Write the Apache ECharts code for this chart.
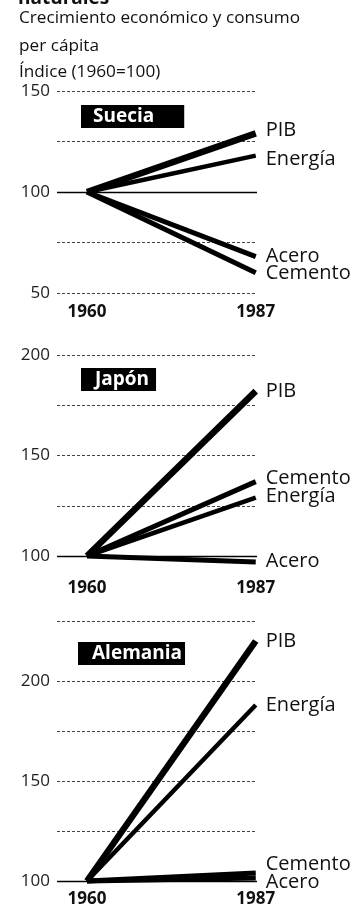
<!DOCTYPE html>
<html>
<head>
<meta charset="utf-8">
<script src="https://cdn.jsdelivr.net/npm/echarts@6/dist/echarts.min.js"></script>
<style>
  html, body { margin: 0; padding: 0; background: #fff; }
  #chart { width: 364px; height: 918px; }
</style>
</head>
<body>
<div id="chart"></div>
<script>
// Years on the horizontal axis
const years = [1960, 1987];

// Index values (1960 = 100), one array per country and indicator
const sueciaPIB = [100, 129];
const sueciaEnergia = [100, 118];
const sueciaAcero = [100, 68];
const sueciaCemento = [100, 60];

const japonPIB = [100, 182];
const japonCemento = [100, 137];
const japonEnergia = [100, 129];
const japonAcero = [100, 97];

const alemaniaPIB = [100, 220];
const alemaniaEnergia = [100, 188];
const alemaniaCemento = [100, 104];
const alemaniaAcero = [100, 101.5];

// Gridline values and labelled ticks for each panel
const sueciaTicks = [50, 75, 100, 125, 150];
const sueciaLabels = [50, 100, 150];
const japonTicks = [100, 125, 150, 175, 200];
const japonLabels = [100, 150, 200];
const alemaniaTicks = [100, 125, 150, 175, 200, 230];
const alemaniaLabels = [100, 150, 200];

const FONT = '"Open Sans", "Noto Sans", sans-serif';
const INK = '#111';

// Panel layout: grid placement, axis range and x-label gap
const panels = [
  { name: 'Suecia', top: 91, height: 202, min: 50, max: 150, ticks: sueciaTicks, labels: sueciaLabels,
    yearGap: 11, box: { left: 81, top: 105, padding: [2, 30, 2, 12] },
    series: [
      { name: 'PIB', values: sueciaPIB },
      { name: 'Energía', values: sueciaEnergia },
      { name: 'Acero', values: sueciaAcero },
      { name: 'Cemento', values: sueciaCemento }
    ],
    nudge: { 'PIB': -3, 'Energía': 4, 'Acero': 0, 'Cemento': 0 } },
  { name: 'Japón', top: 355, height: 201, min: 100, max: 200, ticks: japonTicks, labels: japonLabels,
    yearGap: 24, box: { left: 81, top: 368, padding: [2, 7, 2, 14] },
    series: [
      { name: 'PIB', values: japonPIB },
      { name: 'Cemento', values: japonCemento },
      { name: 'Energía', values: japonEnergia },
      { name: 'Acero', values: japonAcero }
    ],
    nudge: { 'PIB': 0, 'Cemento': -3, 'Energía': -1, 'Acero': -1 } },
  { name: 'Alemania', top: 621, height: 260, min: 100, max: 230, ticks: alemaniaTicks, labels: alemaniaLabels,
    yearGap: 10, box: { left: 78, top: 642, padding: [2, 3, 2, 14] },
    series: [
      { name: 'PIB', values: alemaniaPIB },
      { name: 'Energía', values: alemaniaEnergia },
      { name: 'Cemento', values: alemaniaCemento },
      { name: 'Acero', values: alemaniaAcero }
    ],
    nudge: { 'PIB': 0, 'Energía': 0, 'Cemento': -9, 'Acero': 4 } }
];

const lineWidths = { 'PIB': 6.5, 'Energía': 4.5, 'Acero': 5, 'Cemento': 5 };

const grids = [], xAxes = [], yAxes = [], series = [], titles = [];

panels.forEach((p, i) => {
  grids.push({ left: 57, width: 200, top: p.top, height: p.height });
  xAxes.push({
    type: 'value', gridIndex: i, min: 1955.2, max: 1987.2,
    axisLine: { show: false }, axisTick: { show: false }, splitLine: { show: false },
    axisLabel: {
      customValues: years, margin: p.yearGap,
      formatter: v => String(v),
      fontFamily: FONT, fontWeight: 'bold', fontSize: 17, color: INK
    }
  });
  yAxes.push({
    type: 'value', gridIndex: i, min: p.min, max: p.max,
    axisLine: { show: false },
    axisTick: { show: false, customValues: p.ticks },
    splitLine: { show: true, lineStyle: { type: [3, 2], color: '#444', width: 1 } },
    axisLabel: { customValues: p.labels, margin: 7, fontFamily: FONT, fontSize: 17, color: '#222' }
  });
  titles.push({
    text: p.name, left: p.box.left, top: p.box.top, padding: p.box.padding,
    backgroundColor: '#000',
    textStyle: { color: '#fff', fontFamily: FONT, fontWeight: 'bold', fontSize: 19, lineHeight: 19 }
  });
  p.series.forEach((s, k) => {
    const item = {
      type: 'line', name: s.name, xAxisIndex: i, yAxisIndex: i,
      data: years.map((y, j) => [y, s.values[j]]),
      symbol: 'none', z: 3, clip: false,
      lineStyle: { color: '#000', width: lineWidths[s.name], cap: 'butt' },
      endLabel: {
        show: true, formatter: '{a}', distance: 10, offset: [0, p.nudge[s.name]],
        fontFamily: FONT, fontSize: 20, color: INK
      }
    };
    if (k === 0) {
      // solid base line at the 1960 index level
      item.markLine = {
        silent: true, symbol: ['none', 'none'], label: { show: false },
        lineStyle: { type: 'solid', color: '#000', width: 1.3 },
        data: [{ yAxis: 100 }]
      };
    }
    series.push(item);
  });
});

const chart = echarts.init(document.getElementById('chart'), null, { renderer: 'canvas' });
chart.setOption({
  backgroundColor: '#fff',
  animation: false,
  title: titles,
  grid: grids,
  xAxis: xAxes,
  yAxis: yAxes,
  series: series,
  graphic: [
    { type: 'text', x: 18, y: 8, style: { text: 'naturales', font: 'bold 19px ' + FONT, fill: INK, verticalAlign: 'bottom' } },
    { type: 'text', x: 19, y: 18, style: { text: 'Crecimiento económico y consumo', font: '17.2px ' + FONT, fill: INK, verticalAlign: 'middle' } },
    { type: 'text', x: 19, y: 46, style: { text: 'per cápita', font: '17.2px ' + FONT, fill: INK, verticalAlign: 'middle' } },
    { type: 'text', x: 19, y: 72, style: { text: 'Índice (1960=100)', font: '17.2px ' + FONT, fill: INK, verticalAlign: 'middle' } }
  ]
});
</script>
</body>
</html>
